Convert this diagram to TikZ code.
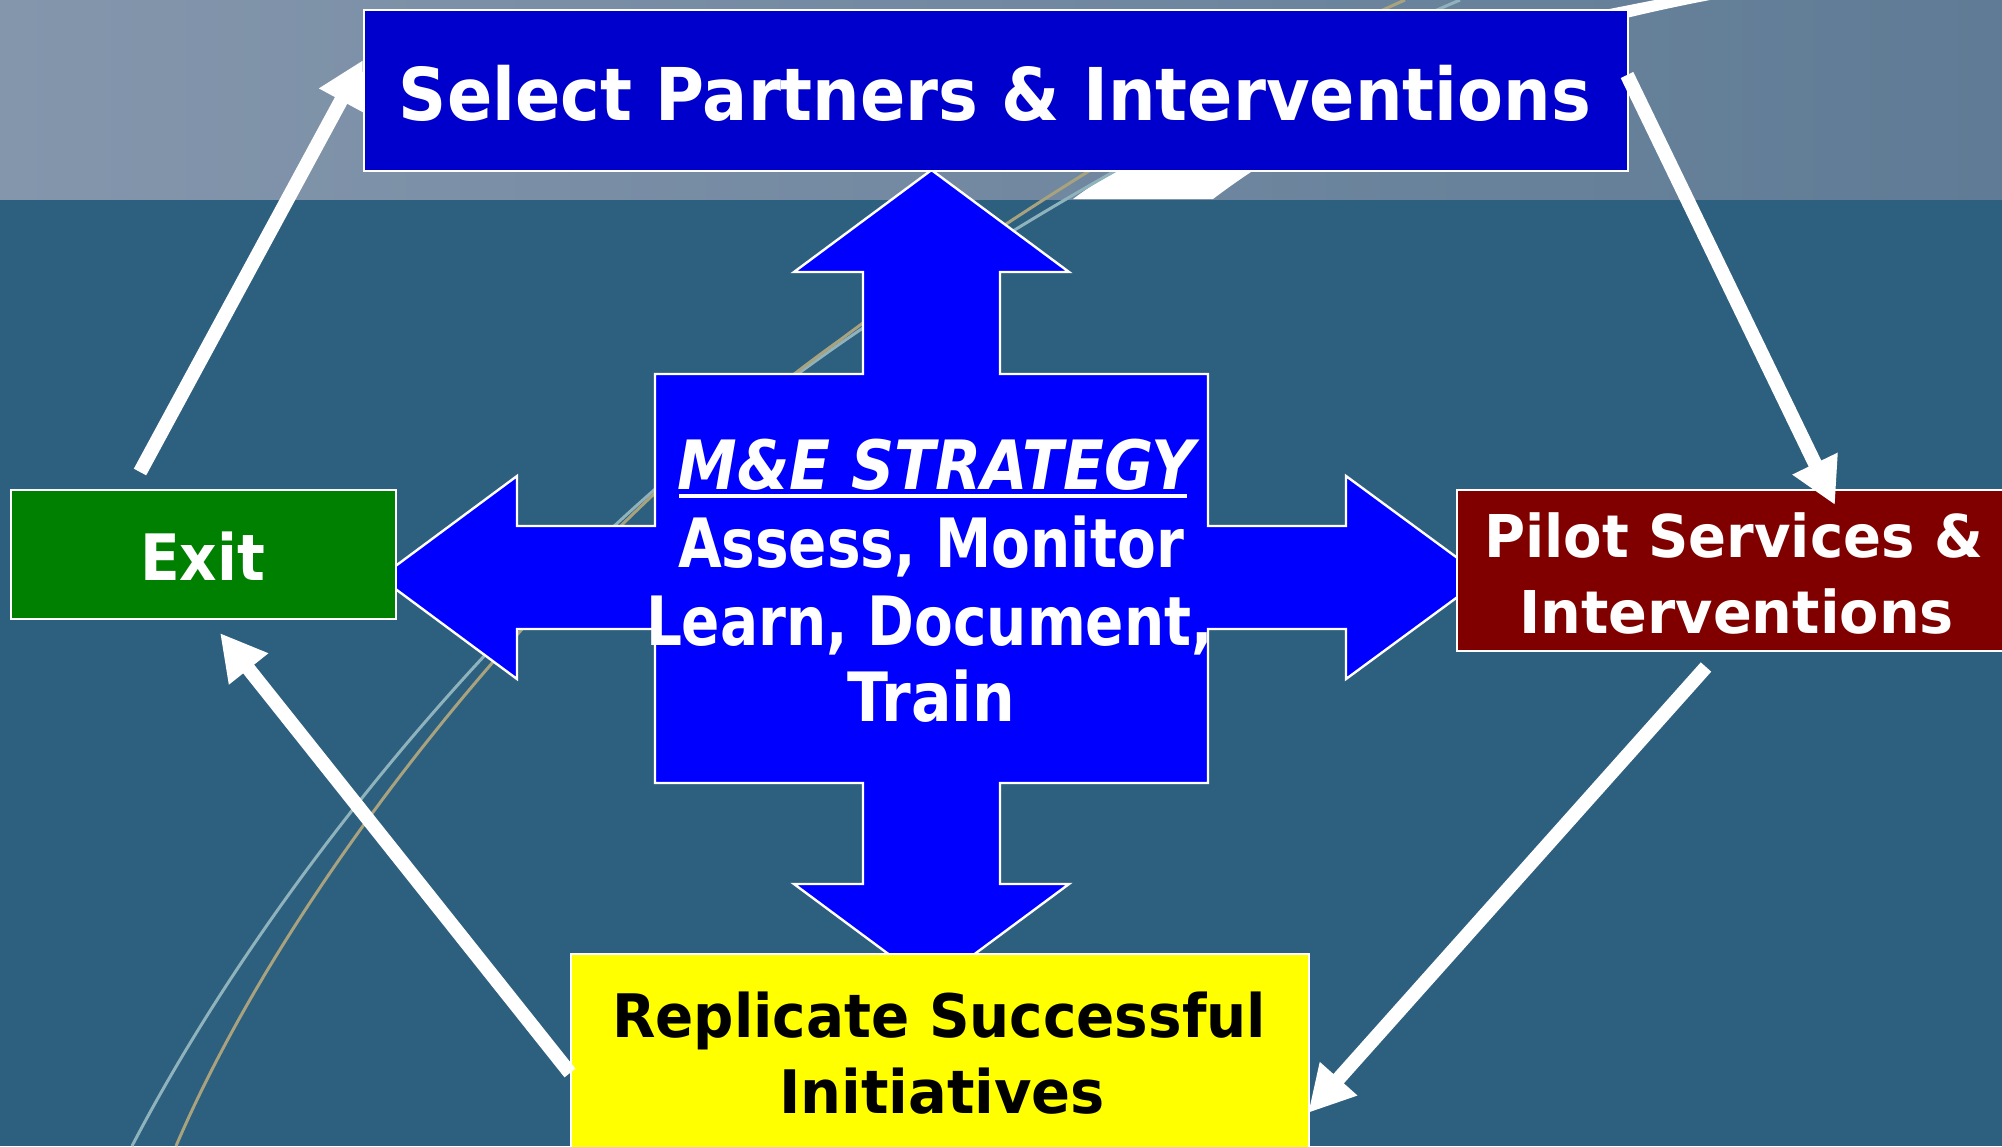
\documentclass[tikz,border=0pt]{standalone}
\usepackage{fontspec}
\setmainfont{DejaVu Sans}
\usepackage{graphicx}
\usetikzlibrary{arrows.meta,calc}

\definecolor{sea}{HTML}{2D5F7E}
\definecolor{skyL}{HTML}{8496AC}
\definecolor{skyR}{HTML}{5F7B95}
\definecolor{crossblue}{HTML}{0000FF}
\definecolor{selblue}{HTML}{0000CC}
\definecolor{exitgreen}{HTML}{008000}
\definecolor{pilotred}{HTML}{800000}
\definecolor{replyellow}{HTML}{FFFF00}
\definecolor{tanline}{HTML}{A8A27F}
\definecolor{paleline}{HTML}{8FB3BC}

% set a line of text and squeeze it horizontally to a given width (in pt)
\newsavebox\fitbox
\newlength\fitlen
\newcommand\hfit[2]{\sbox\fitbox{#2}\setlength\fitlen{\wd\fitbox}%
  \pgfmathsetmacro\fitratio{#1/\fitlen}\scalebox{\fitratio}[1]{\usebox\fitbox}}

\tikzset{
  box/.style={draw=white, line width=1.2pt, inner sep=0pt, outer sep=0pt},
  lbl/.style={anchor=base, inner sep=0pt, font=\bfseries},
  flow/.style={draw=white, line width=7pt, line cap=butt,
    -{Triangle[length=23pt,width=23.5pt]}},
}

\begin{document}
\begin{tikzpicture}[x=0.5pt, y=-0.5pt]
\useasboundingbox (0,0) rectangle (2002,1146);

% backdrop
\fill[sea] (0,0) rectangle (2002,1146);
\shade[left color=skyL, right color=skyR] (0,0) rectangle (2002,199);
\fill[white] (1073,199) -- (1213,199) .. controls (1330,110) and (1500,40) .. (1710,0)
  -- (1655,0) .. controls (1450,40) and (1220,90) .. (1073,199) -- cycle;
\draw[paleline, line width=1.5pt] (132,1146) .. controls (260,900) and (520,560) .. (860,330)
  .. controls (1050,200) and (1250,90) .. (1460,0);
\draw[tanline, line width=1.5pt] (176,1146) .. controls (290,880) and (560,540) .. (840,340)
  .. controls (960,250) and (1200,90) .. (1405,0);

% four-way arrow in the middle
\draw[white, line width=1.2pt, fill=crossblue, line join=miter]
  (931.5,170) -- (1069,272) -- (1000,272) -- (1000,374) -- (1208,374) -- (1208,526)
  -- (1346,526) -- (1346,476) -- (1484,577.5) -- (1346,679) -- (1346,629) -- (1208,629)
  -- (1208,783) -- (1000,783) -- (1000,884) -- (1069,884) -- (931.5,986) -- (794,884)
  -- (863,884) -- (863,783) -- (655,783) -- (655,629) -- (517,629) -- (517,679)
  -- (380,577.5) -- (517,476) -- (517,526) -- (655,526) -- (655,374) -- (863,374)
  -- (863,272) -- (794,272) -- cycle;

% stage boxes
\node[box, fill=selblue, minimum width=632pt, minimum height=80.5pt] (sel) at (996,90.5) {};
\node[box, fill=exitgreen, minimum width=192.5pt, minimum height=64.5pt] (exit) at (203.5,554.5) {};
\node[box, fill=pilotred, minimum width=279pt, minimum height=80.5pt] (pilot) at (1736,570.5) {};
\node[box, fill=replyellow, minimum width=369pt, minimum height=99pt] (repl) at (940,1053) {};

% labels
\node[lbl, text=white] (selT) at (995,120)
  {\fontsize{36.4}{40}\selectfont\hfit{596}{Select Partners \& Interventions}};
\node[lbl, text=white] (exitT) at (202.5,580)
  {\fontsize{32}{36}\selectfont\hfit{62.5}{Exit}};
\node[lbl, text=white] (pilotA) at (1733.5,557)
  {\fontsize{29.5}{34}\selectfont\hfit{249.5}{Pilot Services \&}};
\node[lbl, text=white] (pilotB) at (1736.5,633)
  {\fontsize{29.5}{34}\selectfont\hfit{217.5}{Interventions}};
\node[lbl, text=black] (replA) at (939,1037)
  {\fontsize{30}{34}\selectfont\hfit{327}{Replicate Successful}};
\node[lbl, text=black] (replB) at (942,1113)
  {\fontsize{30}{34}\selectfont\hfit{163}{Initiatives}};

\node[lbl, text=white, font=\bfseries\itshape] (me) at (936,489)
  {\fontsize{34}{38}\selectfont\hfit{258.5}{M\&E STRATEGY}};
\draw[white, line width=2pt] ($(me.base west)+(2,7)$) -- ($(me.base east)+(-8,7)$);
\node[lbl, text=white] (mA) at (931,567)
  {\fontsize{34}{38}\selectfont\hfit{253}{Assess, Monitor}};
\node[lbl, text=white] (mB) at (929.5,645)
  {\fontsize{34}{38}\selectfont\hfit{283.5}{Learn, Document,}};
\node[lbl, text=white] (mC) at (931,721)
  {\fontsize{34}{38}\selectfont\hfit{84}{Train}};

% cycle connectors
\draw[flow] ($(exit.north west)+(129,-18)$) -- ($(sel.west)+(-1,-30.5)$);
\draw[flow] ($(sel.east)+(-1,-15.5)$) -- ($(pilot.north west)+(378,15)$);
\draw[flow] ($(pilot.south)+(-30,16)$) -- ($(repl.east)+(-1,60)$);
\draw[flow] ($(repl.west)+(-1,20)$) -- ($(exit.south west)+(209,14)$);
\end{tikzpicture}
\end{document}
